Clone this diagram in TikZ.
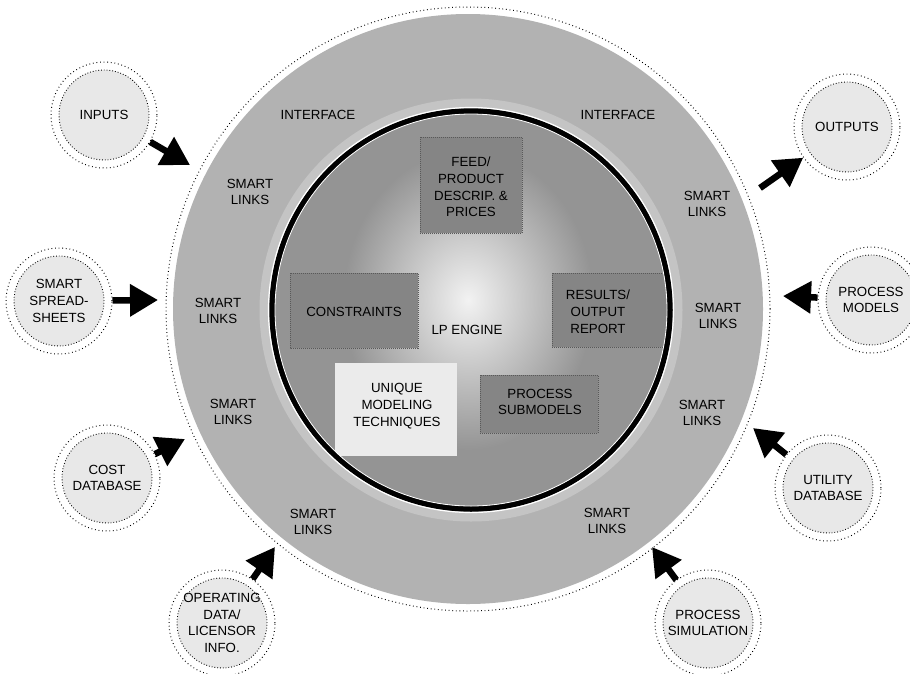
\documentclass[tikz,border=0pt]{standalone}
\usepackage{fontspec}
\setmainfont{Liberation Sans}
\usetikzlibrary{arrows.meta}
\definecolor{ringfill}{gray}{0.70}
\definecolor{halo}{gray}{0.77}
\definecolor{innerfill}{gray}{0.58}
\definecolor{boxfill}{gray}{0.52}
\definecolor{centerfill}{gray}{0.95}
\definecolor{uniquefill}{gray}{0.92}
\definecolor{satfill}{gray}{0.91}
\begin{document}
\begin{tikzpicture}[x=1pt,y=-1pt,
  lbl/.style={font=\fontsize{13.3}{16.8}\selectfont, align=center, inner sep=0pt},
  sat/.style={circle, minimum size=106pt, inner sep=0pt, draw=black, line width=1pt,
    dash pattern=on 0.8pt off 2.8pt, fill=white,
    path picture={\fill[satfill] (path picture bounding box.center) circle (45pt);
      \draw[black, line width=0.9pt, dash pattern=on 0.8pt off 2pt] (path picture bounding box.center) circle (45pt);},
    lbl},
  bigarrow/.style={line width=6.5pt, -{Triangle[length=28pt,width=31pt]}},
  boxline/.style={draw=black!65, line width=0.6pt, dash pattern=on 1pt off 1pt},
]
\useasboundingbox (0,0) rectangle (910,673);
\fill[white] (0,0) rectangle (910,673);

% outer ring
\coordinate (c) at (468,309);
\coordinate (ci) at (471,310);
\fill[ringfill] (c) circle (295pt);
\draw[black, line width=1pt, dash pattern=on 0.8pt off 2.8pt] (c) circle (302pt);
\draw[halo, line width=9pt] (ci) circle (207pt);

% inner circle
\fill[innerfill] (ci) circle (198pt);
\begin{scope}
  \clip (ci) circle (196pt);
  \shade[inner color=centerfill, outer color=innerfill] (468,300) ellipse (125pt and 150pt);
  \fill[boxfill] (420,137) rectangle (522,233);
  \draw[boxline] (420,137) rectangle (522,233);
  \fill[boxfill] (290,273) rectangle (418,348);
  \draw[boxline] (290,273) rectangle (418,348);
  \fill[boxfill] (552,273) rectangle (680,347);
  \draw[boxline] (552,273) rectangle (680,347);
  \fill[uniquefill] (335,363) rectangle (457,456);
  \fill[boxfill] (480,375) rectangle (598,433);
  \draw[boxline] (480,375) rectangle (598,433);
\end{scope}
\draw[black, line width=5.5pt] (ci) circle (199pt);
\draw[white, line width=0.8pt] (ci) circle (196pt);
\draw[white, line width=1.2pt] (ci) circle (202.5pt);

% inner texts
\node[lbl] (feed) at (471,187) {FEED/\\PRODUCT\\DESCRIP. \&\\PRICES};
\node[lbl] (constraints) at (354,312) {CONSTRAINTS};
\node[lbl] (results) at (598,312) {RESULTS/\\OUTPUT\\REPORT};
\node[lbl] (lp) at (467,330) {LP ENGINE};
\node[lbl] (unique) at (397,406) {UNIQUE\\MODELING\\TECHNIQUES};
\node[lbl] (submodels) at (540,402) {PROCESS\\SUBMODELS};

% ring texts
\node[lbl] (if1) at (318,115) {INTERFACE};
\node[lbl] (if2) at (618,115) {INTERFACE};
\node[lbl] (sl1) at (250,192) {SMART\\LINKS};
\node[lbl] (sl2) at (218,311) {SMART\\LINKS};
\node[lbl] (sl3) at (233,412) {SMART\\LINKS};
\node[lbl] (sl4) at (313,522) {SMART\\LINKS};
\node[lbl] (sl5) at (607,521) {SMART\\LINKS};
\node[lbl] (sl6) at (702,413) {SMART\\LINKS};
\node[lbl] (sl7) at (718,316) {SMART\\LINKS};
\node[lbl] (sl8) at (707,204) {SMART\\LINKS};

% satellites
\node[sat] (inputs) at (104,115) {INPUTS};
\node[sat] (spread) at (59,301) {SMART\\SPREAD-\\SHEETS};
\node[sat] (cost) at (107,478) {COST\\DATABASE};
\node[sat] (oper) at (222,623) {OPERATING\\DATA/\\LICENSOR\\INFO.};
\node[sat] (outputs) at (847,127) {OUTPUTS};
\node[sat] (pmodels) at (871,300) {PROCESS\\MODELS};
\node[sat] (utility) at (828,488) {UTILITY\\DATABASE};
\node[sat] (psim) at (708,623) {PROCESS\\SIMULATION};

% arrow end points on the ring
\coordinate (tinputs) at (190,165);
\coordinate (tspread) at (158,300);
\coordinate (tcost) at (185,439);
\coordinate (toper) at (275,547);
\coordinate (soutputs) at (760,188);
\coordinate (tpmodels) at (783,296);
\coordinate (tutility) at (753,428);
\coordinate (tpsim) at (652,547);

\draw[bigarrow] (inputs) -- (tinputs);
\draw[bigarrow] (spread) -- (tspread);
\draw[bigarrow] (cost) -- (tcost);
\draw[bigarrow] (oper) -- (toper);
\draw[bigarrow] (soutputs) -- (outputs);
\draw[bigarrow] (pmodels) -- (tpmodels);
\draw[bigarrow] (utility) -- (tutility);
\draw[bigarrow] (psim) -- (tpsim);
\end{tikzpicture}
\end{document}
